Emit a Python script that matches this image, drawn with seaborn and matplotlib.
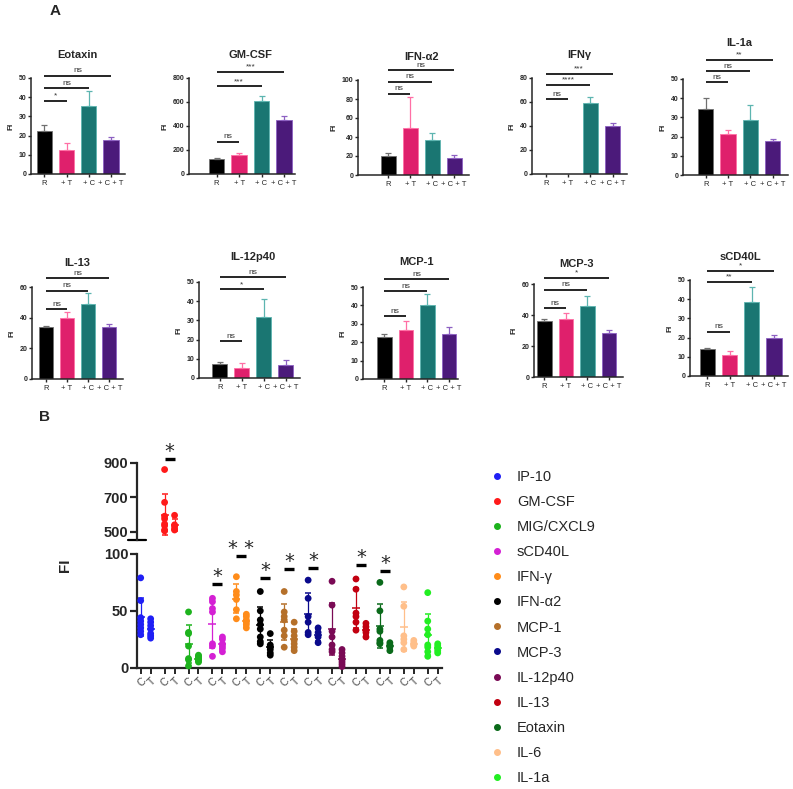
import matplotlib
matplotlib.use("Agg")
import matplotlib.pyplot as plt
from matplotlib.lines import Line2D
import numpy as np
import pandas as pd
import seaborn as sns

sns.set_style("ticks")
plt.rcParams["font.family"] = ["Liberation Sans", "DejaVu Sans"]

W, H = 793, 789

# ---------------- panel A: bar charts (mean, upper error) ----------------
groups = ["R", "+ T", "+ C", "+ C + T"]
bar_colors = ["#000000", "#ff0066", "#0b8580", "#4b0a8a"]
err_colors = ["#707070", "#ff6fa5", "#5db5b0", "#8d60c2"]

a_names = ["Eotaxin", "GM-CSF", "IFN-α2", "IFNγ", "IL-1a",
           "IL-13", "IL-12p40", "MCP-1", "MCP-3", "sCD40L"]

a_means = {
    "Eotaxin": [22.6, 12.5, 35.2, 17.8],
    "GM-CSF": [127, 155, 607, 449],
    "IFN-α2": [19.7, 49.6, 37.3, 18.3],
    "IFNγ": [0, 0, 59.4, 40.0],
    "IL-1a": [34.5, 21.6, 28.9, 17.6],
    "IL-13": [33.6, 39.7, 49.1, 33.6],
    "IL-12p40": [7.4, 5.2, 31.9, 6.9],
    "MCP-1": [22.9, 26.5, 40.0, 24.7],
    "MCP-3": [36.3, 37.4, 45.6, 28.4],
    "sCD40L": [14.1, 10.9, 38.5, 19.6],
}
a_errs = {
    "Eotaxin": [2.7, 3.4, 8.2, 1.5],
    "GM-CSF": [5, 22, 47, 33],
    "IFN-α2": [3.9, 32.1, 6.4, 2.5],
    "IFNγ": [0, 0, 4.8, 2.2],
    "IL-1a": [5.4, 1.6, 7.3, 1.4],
    "IL-13": [0.7, 3.7, 7.0, 2.0],
    "IL-12p40": [0.7, 2.6, 9.0, 2.4],
    "MCP-1": [1.4, 4.9, 6.4, 3.3],
    "MCP-3": [1.1, 3.9, 6.4, 1.9],
    "sCD40L": [0.3, 2.1, 7.7, 1.9],
}
# comparisons against R: (target group index, bar height, label)
a_sig = {
    "Eotaxin": [(1, 38.2, "*"), (2, 44.6, "ns"), (3, 51.2, "ns")],
    "GM-CSF": [(1, 269, "ns"), (2, 731, "***"), (3, 850, "***")],
    "IFN-α2": [(1, 85.6, "ns"), (2, 98.2, "ns"), (3, 110, "ns")],
    "IFNγ": [(1, 62.2, "ns"), (2, 74.2, "****"), (3, 83.3, "***")],
    "IL-1a": [(1, 48.3, "ns"), (2, 54.2, "ns"), (3, 59.9, "**")],
    "IL-13": [(1, 45.5, "ns"), (2, 57.6, "ns"), (3, 65.7, "ns")],
    "IL-12p40": [(1, 19.3, "ns"), (2, 46.2, "*"), (3, 52.4, "ns")],
    "MCP-1": [(1, 34.1, "ns"), (2, 47.8, "ns"), (3, 54.3, "ns")],
    "MCP-3": [(1, 44.5, "ns"), (2, 56.3, "ns"), (3, 63.9, "*")],
    "sCD40L": [(1, 23.1, "ns"), (2, 49.0, "**"), (3, 54.7, "*")],
}

# layout in pixels: left, right, top (max tick), bottom (zero), ymax, ystep, xlim, title height (data)
a_layout = {
    "Eotaxin": (31, 125, 78, 174, 50, 10, (-0.6, 3.63), 62),
    "GM-CSF": (189, 295, 78, 174, 800, 200, (-1.23, 3.49), 992),
    "IFN-α2": (358, 469, 80, 175, 100, 20, (-1.38, 3.68), 124),
    "IFNγ": (532, 627, 78, 174, 80, 20, (-0.61, 3.64), 99),
    "IL-1a": (683, 788, 79, 175, 50, 10, (-1.02, 3.69), 68.7),
    "IL-13": (32, 123, 287, 379, 60, 20, (-0.65, 3.65), 75.9),
    "IL-12p40": (199, 300, 282, 378, 50, 10, (-0.95, 3.64), 63.2),
    "MCP-1": (363, 458, 287, 379, 50, 10, (-0.99, 3.42), 63.6),
    "MCP-3": (534, 623, 284, 377, 60, 20, (-0.48, 3.65), 72.9),
    "sCD40L": (690, 788, 280, 376, 50, 10, (-0.78, 3.63), 62),
}

# ---------------- panel B: individual values, C vs T ----------------
b_names = ["IP-10", "GM-CSF", "MIG/CXCL9", "sCD40L", "IFN-γ", "IFN-α2", "MCP-1",
           "MCP-3", "IL-12p40", "IL-13", "Eotaxin", "IL-6", "IL-1a"]
b_colors = ["#1f1ff5", "#ff1a1a", "#1db31d", "#d420d4", "#ff8c1a", "#000000", "#b5702a",
            "#0a0a8c", "#7a0a55", "#c20010", "#0a6a1a", "#ffbf8a", "#22ee22"]
b_c = {
    "IP-10": [79, 59, 44, 41, 38, 35, 32, 29],
    "GM-CSF": [860, 670, 590, 575, 545, 535, 510, 505],
    "MIG/CXCL9": [49, 31, 30, 19, 8, 7, 1.5],
    "sCD40L": [61, 58, 52, 49, 21, 19, 10],
    "IFN-γ": [80, 67, 64, 60, 51, 43],
    "IFN-α2": [67, 50, 42, 38, 34, 27, 23, 21],
    "MCP-1": [67, 49, 45, 42, 33, 28, 18],
    "MCP-3": [77, 61, 45, 40, 31, 29],
    "IL-12p40": [76, 55, 32, 27, 20, 16, 14],
    "IL-13": [78, 69, 48, 45, 40, 33],
    "Eotaxin": [75, 50, 34, 32, 24, 22, 21],
    "IL-6": [71, 54, 28, 25, 22, 16],
    "IL-1a": [66, 41, 34, 29, 20, 18, 14, 10],
}
b_t = {
    "IP-10": [43, 40, 37, 34, 30, 28, 26],
    "GM-CSF": [595, 540, 530, 515, 510],
    "MIG/CXCL9": [11, 10, 9, 8, 7, 6, 5],
    "sCD40L": [27, 25, 21, 19, 17, 14],
    "IFN-γ": [47, 45, 42, 40, 38, 35],
    "IFN-α2": [30, 20, 18, 16, 13, 11],
    "MCP-1": [40, 32, 28, 24, 21, 18, 15],
    "MCP-3": [35, 31, 27, 22],
    "IL-12p40": [16, 13, 10, 7, 5, 3, 1],
    "IL-13": [39, 36, 33, 31, 27],
    "Eotaxin": [22, 20, 18, 15],
    "IL-6": [24, 22, 20, 19],
    "IL-1a": [21, 19, 17, 15, 13],
}
b_stars = {
    "GM-CSF": (920, "*"), "sCD40L": (73.3, "*"), "IFN-γ": (98.5, "* *"),
    "IFN-α2": (79, "*"), "MCP-1": (86.5, "*"), "MCP-3": (87.4, "*"),
    "IL-13": (90.6, "*"), "Eotaxin": (85.3, "*"),
}

fig = plt.figure(figsize=(W / 100, H / 100), dpi=100)


def px_axes(left, right, top, bottom):
    return fig.add_axes([left / W, 1 - bottom / H, (right - left) / W, (bottom - top) / H])


# ---- panel A ----
for name in a_names:
    left, right, top, bottom, ymax, step, xlim, title_y = a_layout[name]
    ax = px_axes(left, right, top, bottom)
    ax.patch.set_alpha(0)
    df = pd.DataFrame({"group": groups, "FI": a_means[name]})
    sns.barplot(data=df, x="group", y="FI", hue="group", palette=bar_colors,
                legend=False, width=0.68, ax=ax)
    for patch, ec in zip(ax.patches, err_colors):
        patch.set_edgecolor(ec)
        patch.set_linewidth(0.6)
    for i, (m, e) in enumerate(zip(a_means[name], a_errs[name])):
        if e > 0:
            ax.errorbar(i, m, yerr=[[0], [e]], fmt="none", ecolor=err_colors[i],
                        elinewidth=0.9, capsize=2.5, capthick=0.9, zorder=3)
    for j, y, lab in a_sig[name]:
        ax.plot([0, j], [y, y], color="black", lw=1.2, clip_on=False, solid_capstyle="butt")
        ax.annotate(lab, (j / 2, y), xytext=(0, 1), textcoords="offset points",
                    ha="center", va="bottom", fontsize=6, color="#333333", annotation_clip=False)
    ax.text(1.5, title_y, name, ha="center", va="center", fontsize=8, fontweight="bold")
    ax.set_xlim(*xlim)
    ax.set_ylim(0, ymax)
    ax.set_yticks(np.arange(0, ymax + 1, step))
    sns.despine(ax=ax)
    for s in ("left", "bottom"):
        ax.spines[s].set_linewidth(1.1)
    ax.tick_params(axis="y", length=2.5, width=1, labelsize=5, pad=1)
    ax.tick_params(axis="x", length=2.5, width=1, labelsize=5.5, pad=1.5)
    for tl in ax.get_yticklabels():
        tl.set_fontweight("bold")
    ax.set_xlabel("")
    ax.set_ylabel("FI", fontsize=6, fontweight="bold", labelpad=3)

# ---- panel B ----
rows = []
for i, name in enumerate(b_names):
    for grp, vals in (("C", b_c[name]), ("T", b_t[name])):
        for v in vals:
            rows.append({"cytokine": name, "group": grp, "pos": i * 2.4 + (grp == "T"), "FI": v})
df_b = pd.DataFrame(rows)
pal = dict(zip(b_names, b_colors))

ax_lo = px_axes(136.7, 441.7, 541, 667.7)
ax_hi = px_axes(136.7, 441.7, 440, 539.5)
for ax in (ax_lo, ax_hi):
    ax.patch.set_alpha(0)

upper = df_b["cytokine"] == "GM-CSF"
for ax, sub in ((ax_lo, df_b[~upper]), (ax_hi, df_b[upper])):
    sns.scatterplot(data=sub, x="pos", y="FI", hue="cytokine", palette=pal, s=24,
                    linewidth=0, legend=False, ax=ax, clip_on=False, zorder=3)
    stats = sub.groupby(["cytokine", "group", "pos"], sort=False)["FI"].agg(["mean", "std"]).reset_index()
    for _, r in stats.iterrows():
        ax.errorbar(r["pos"], r["mean"], yerr=r["std"], fmt="_", color=pal[r["cytokine"]],
                    markersize=6, markeredgewidth=1.1, elinewidth=0.9, capsize=2, capthick=0.9, zorder=2)

for name, (y, lab) in b_stars.items():
    ax = ax_hi if name == "GM-CSF" else ax_lo
    i = b_names.index(name)
    ax.plot([i * 2.4, i * 2.4 + 1], [y, y], color="black", lw=2.4, solid_capstyle="butt", clip_on=False)
    ax.annotate(lab, (i * 2.4 + 0.5, y), xytext=(0, 5.5), textcoords="offset points",
                ha="center", va="center", fontsize=14, family="DejaVu Sans", annotation_clip=False)

ax_lo.set_xlim(-0.4, 30.2)
ax_hi.set_xlim(-0.4, 30.2)
ax_lo.set_ylim(0, 111.4)
ax_hi.set_ylim(455, 1031)
ax_lo.set_yticks([0, 50, 100])
ax_hi.set_yticks([500, 700, 900])
ax_lo.spines["left"].set_bounds(0, 100)
ax_hi.spines["left"].set_bounds(455, 900)
for s in ("top", "right"):
    ax_lo.spines[s].set_visible(False)
for s in ("top", "right", "bottom"):
    ax_hi.spines[s].set_visible(False)
for ax in (ax_lo, ax_hi):
    ax.spines["left"].set_linewidth(1.6)
    ax.tick_params(axis="y", length=5, width=1.6, labelsize=10.5, pad=1)
    for tl in ax.get_yticklabels():
        tl.set_fontweight("bold")
    ax.set_xlabel("")
    ax.set_ylabel("")
ax_hi.set_xticks([])
ax_hi.plot([-0.03, 0.03], [0, 0], transform=ax_hi.transAxes, color="black", lw=1.6, clip_on=False)
ax_lo.spines["bottom"].set_linewidth(1.6)
xt = df_b.drop_duplicates("pos").sort_values("pos")
ax_lo.set_xticks(xt["pos"])
ax_lo.set_xticklabels(xt["group"], rotation=45, ha="right", va="top", rotation_mode="anchor",
                      fontsize=7.5, color="#444444")
ax_lo.tick_params(axis="x", length=4, width=1.4, pad=2)

fig.text(65 / W, 1 - 565 / H, "FI", rotation=90, fontsize=11, fontweight="bold", ha="center", va="center")

handles = [Line2D([], [], marker="o", ls="", color=c, markersize=4) for c in b_colors]
fig.legend(handles, b_names, loc="upper left", bbox_to_anchor=(491 / W, 1 - 470 / H),
           frameon=False, fontsize=10.5, handlelength=0.8, handletextpad=0.97,
           labelspacing=0.76, borderpad=0, borderaxespad=0)

fig.text(55 / W, 1 - 11 / H, "A", fontsize=11, fontweight="bold", ha="center", va="center")
fig.text(45 / W, 1 - 417 / H, "B", fontsize=11, fontweight="bold", ha="center", va="center")

fig.savefig("out.png", dpi=100)
